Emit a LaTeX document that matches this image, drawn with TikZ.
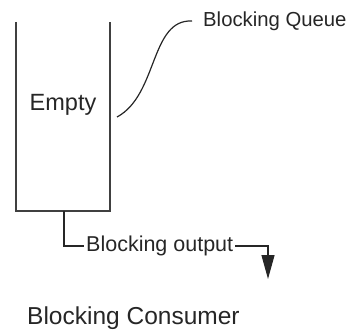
\documentclass[tikz,border=0pt]{standalone}
\usepackage{fontspec}
\setmainfont{Liberation Sans}
\usetikzlibrary{positioning, arrows.meta}

\begin{document}
\begin{tikzpicture}[
    x=1pt, y=-1pt,
    wall/.style={draw=black!75, line width=1.7pt},
    link/.style={draw=black!85, line width=1.2pt},
    flow/.style={link, -{Triangle[width=13pt, length=24pt]}},
    lbl/.style={inner sep=2pt, text=black!85}
]
\useasboundingbox (0,0) rectangle (355,334);
% open-topped queue
\draw[wall] (16,22) -- (16,211) -- (110,211) -- (110,22);
\coordinate (stem) at (64,211);
\coordinate (side) at (117,117);
\node[lbl, font=\fontsize{23.5}{27}\selectfont] (empty) at (63,105) {Empty};
\node[lbl, anchor=west, inner xsep=11pt, font=\fontsize{20.3}{24}\selectfont] (queue) at (192,21) {Blocking Queue};
\node[lbl, anchor=west, font=\fontsize{21.5}{25}\selectfont] (out) at (84,246) {Blocking output};
\coordinate (drop) at (268,279);
\node[lbl, anchor=west, font=\fontsize{24.5}{28}\selectfont] (cons) at (25,318) {Blocking Consumer};
% connectors
\draw[link] (side) .. controls (158,95) and (150,19) .. (queue.west);
\draw[link] (stem) |- (out.west);
\draw[flow] (out.east) -| (drop);
\end{tikzpicture}
\end{document}
